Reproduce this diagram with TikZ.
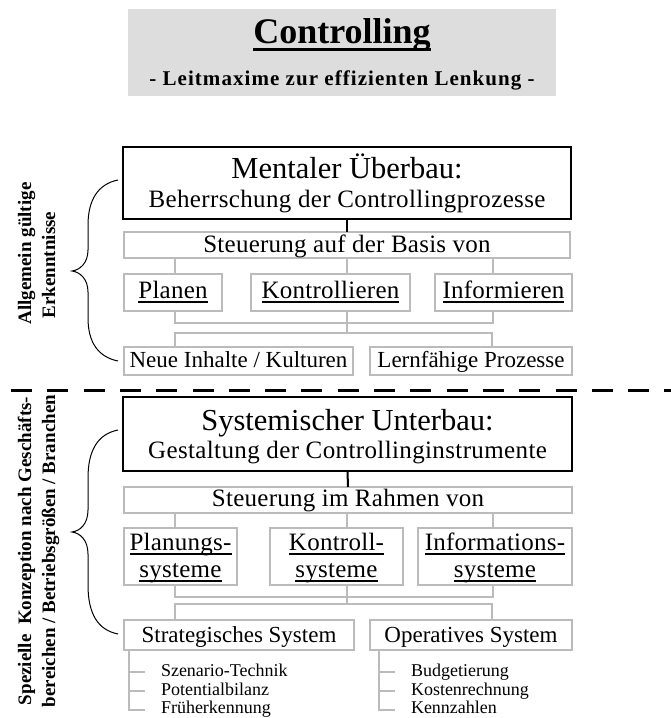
\documentclass[tikz,border=0pt]{standalone}
\usepackage{fontspec}
\setmainfont{Liberation Serif}
\usetikzlibrary{calc}

\definecolor{frame}{HTML}{BBBBBB}
\definecolor{titlebg}{HTML}{DDDDDD}

% underline: #1 = lowering of the rule's bottom, #2 = thickness, #3 = text
\newcommand\ulr[3]{\setbox0\hbox{#3}\rlap{\rule[-#1]{\wd0}{#2}}\box0}

\tikzset{
  every node/.style={inner sep=0pt, outer sep=0pt},
  mainbox/.style={draw=black, line width=1.5pt, anchor=north west},
  gbox/.style={draw=frame, line width=2.5pt, anchor=north west},
  link/.style={draw=frame, line width=2.5pt},
  blink/.style={draw=black, line width=2pt},
  brace/.style={draw=black, line width=1pt},
  dashline/.style={draw=black, line width=3pt, dash pattern=on 21pt off 15.3pt},
  txt/.style={anchor=base},
  item/.style={anchor=base west, font=\fontsize{18}{20}\selectfont},
  tbig/.style={txt, font=\fontsize{30.5}{32}\selectfont},
  tsec/.style={txt, font=\fontsize{25}{27}\selectfont\addfontfeatures{LetterSpace=1.5}},
  tmid/.style={txt, font=\fontsize{25}{27}\selectfont\addfontfeatures{LetterSpace=1}},
  tlow/.style={txt, font=\fontsize{23}{25}\selectfont},
  side/.style={anchor=base, rotate=90, font=\bfseries\fontsize{19}{21}\selectfont},
}

\begin{document}
\begin{tikzpicture}[x=1pt, y=-1pt]
\useasboundingbox (0,0) rectangle (671,718);

% ---- title ----
\node[fill=titlebg, minimum width=428pt, minimum height=87pt, anchor=north west] (titlebox) at (128,9) {};
\node[txt, font=\bfseries\fontsize{36}{38}\selectfont] (title) at (342,43) {\ulr{8pt}{3pt}{Controlling}};
\node[txt, font=\bfseries\fontsize{21}{23}\selectfont\addfontfeatures{LetterSpace=5}] (subtitle) at (342,85) {- Leitmaxime zur effizienten Lenkung -};

% ---- branch positions ----
\coordinate (xl) at (175,0);
\coordinate (xc) at (347,0);
\coordinate (xr) at (493,0);
\coordinate (xr2) at (492,0);

% ---- upper part: mental superstructure ----
\node[mainbox, minimum width=448pt, minimum height=72pt] (mental) at (123,147) {};
\node[tbig] at (347,178) {Mentaler Überbau:};
\node[tsec] at (347,207) {Beherrschung der Controllingprozesse};

\node[gbox, minimum width=446pt, minimum height=26pt] (steu1) at (124,232) {};
\node[tmid] at (347,252) {Steuerung auf der Basis von};

\node[gbox, minimum width=98pt, minimum height=37pt] (plan) at (124,274) {};
\node[gbox, minimum width=159pt, minimum height=37pt] (kon) at (251,274) {};
\node[gbox, minimum width=137pt, minimum height=37pt] (inf) at (435,274) {};
\node[tmid] at (173,298) {\ulr{4.5pt}{2pt}{Planen}};
\node[tmid] at (330.5,298) {\ulr{4.5pt}{2pt}{Kontrollieren}};
\node[tmid] at (503.5,298) {\ulr{4.5pt}{2pt}{Informieren}};

\node[gbox, minimum width=229pt, minimum height=28pt] (neue) at (124,347) {};
\node[gbox, minimum width=202pt, minimum height=28pt] (lern) at (370,347) {};
\node[tlow] at (238.5,367) {Neue Inhalte / Kulturen};
\node[tlow] at (471,367) {Lernfähige Prozesse};

\coordinate (h1) at (0,323);
\coordinate (h2) at (0,333);
\draw[blink] (mental.south) -- (steu1.north);
\draw[link] (steu1.south -| xl) -- (plan.north -| xl);
\draw[link] (steu1.south -| xc) -- (kon.north -| xc);
\draw[link] (steu1.south -| xr) -- (inf.north -| xr);
\draw[link] (plan.south -| xl) -- (xl |- h1) -- (xr |- h1) -- (inf.south -| xr);
\draw[link] (kon.south -| xc) -- (xc |- h2);
\draw[link] (neue.north -| xl) -- (xl |- h2) -- (xr2 |- h2) -- (lern.north -| xr2);

% ---- separator ----
\coordinate (dl) at (11,390);
\coordinate (dr) at (671,390);
\draw[dashline] (dl) -- (dr);

% ---- lower part: systemic substructure ----
\node[mainbox, minimum width=449pt, minimum height=74pt] (sys) at (123,397) {};
\node[tbig] at (347.5,430) {Systemischer Unterbau:};
\node[tsec] at (347.5,458) {Gestaltung der Controllinginstrumente};

\node[gbox, minimum width=448pt, minimum height=26pt] (steu2) at (124,487) {};
\node[tmid] at (348,506) {Steuerung im Rahmen von};

\node[gbox, minimum width=113pt, minimum height=57pt] (plans) at (124,528) {};
\node[gbox, minimum width=133pt, minimum height=57pt] (kons) at (270,528) {};
\node[gbox, minimum width=154pt, minimum height=57pt] (infs) at (418,528) {};
\node[tmid] at (180.5,550) {\ulr{4.5pt}{2pt}{Planungs-}};
\node[tmid] at (180.5,577) {\ulr{4.5pt}{2pt}{systeme}};
\node[tmid] at (336.5,550) {\ulr{4.5pt}{2pt}{Kontroll-}};
\node[tmid] at (336.5,577) {\ulr{4.5pt}{2pt}{systeme}};
\node[tmid] at (495,550) {\ulr{4.5pt}{2pt}{Informations-}};
\node[tmid] at (495,577) {\ulr{4.5pt}{2pt}{systeme}};

\node[gbox, minimum width=230pt, minimum height=30pt] (strat) at (124,620) {};
\node[gbox, minimum width=202pt, minimum height=30pt] (oper) at (370,620) {};
\node[tlow] at (239,642) {Strategisches System};
\node[tlow] at (471,642) {Operatives System};

\coordinate (h3) at (0,597);
\coordinate (h4) at (0,604);
\draw[blink] (sys.south) -- (steu2.north);
\draw[link] (steu2.south -| xl) -- (plans.north -| xl);
\draw[link] (steu2.south -| xc) -- (kons.north -| xc);
\draw[link] (steu2.south -| xr) -- (infs.north -| xr);
\draw[link] (plans.south -| xl) -- (xl |- h3) -- (xr |- h3) -- (infs.south -| xr);
\draw[link] (kons.south -| xc) -- (xc |- h4);
\draw[link] (strat.north -| xl) -- (xl |- h4) -- (xr2 |- h4) -- (oper.north -| xr2);

% ---- instrument lists ----
\node[item] (sz) at (161,676) {Szenario-Technik};
\node[item] (pb) at (161,695) {Potentialbilanz};
\node[item] (fe) at (161,713) {Früherkennung};
\node[item] (bu) at (411,676) {Budgetierung};
\node[item] (kr) at (411,695) {Kostenrechnung};
\node[item] (kz) at (411,713) {Kennzahlen};

\coordinate (sa) at (129,0);
\coordinate (sb) at (145,0);
\coordinate (oa) at (379,0);
\coordinate (ob) at (395,0);
\coordinate (t1) at (0,672);
\coordinate (t2) at (0,691);
\coordinate (t3) at (0,710);
\draw[link] (strat.south -| sa) -- (sa |- t3) -- (sb |- t3);
\draw[link] (sa |- t1) -- (sb |- t1);
\draw[link] (sa |- t2) -- (sb |- t2);
\draw[link] (oper.south -| oa) -- (oa |- t3) -- (ob |- t3);
\draw[link] (oa |- t1) -- (ob |- t1);
\draw[link] (oa |- t2) -- (ob |- t2);

% ---- side braces and captions ----
\draw[brace] (118,180) .. controls (98,184) and (88,200) .. (88,225) -- (88,250)
  .. controls (88,263) and (80,270) .. (72,271) .. controls (80,272) and (88,279) .. (88,292)
  -- (88,318) .. controls (88,342) and (98,357) .. (118,361);
\draw[brace] (118,430) .. controls (98,434) and (88,450) .. (88,478) -- (88,510)
  .. controls (88,524) and (80,531) .. (72,532) .. controls (80,533) and (88,540) .. (88,554)
  -- (88,585) .. controls (88,614) and (98,630) .. (118,634);

\node[side] (capA1) at (31,253.5) {Allgemein gültige};
\node[side] (capA2) at (55,265) {Erkenntnisse};
\node[side] (capB1) at (31,551) {Spezielle\ \ Konzeption nach Geschäfts-};
\node[side] (capB2) at (55,551) {bereichen / Betriebsgrößen / Branchen};

\end{tikzpicture}
\end{document}
